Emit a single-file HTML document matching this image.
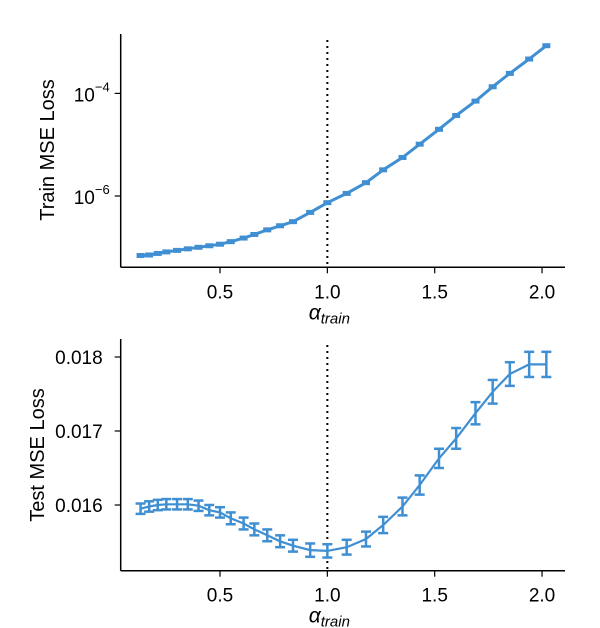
<!DOCTYPE html>
<html><head><meta charset="utf-8"><style>
body{margin:0;background:#fff;}
svg{display:block;font-family:"Liberation Sans",Arial,sans-serif;}
</style></head><body>
<svg id="chart" width="600" height="628" viewBox="0 0 600 628"></svg>
<script>
const alphas=[0.13,0.17,0.21,0.25,0.30,0.35,0.40,0.45,0.50,0.55,0.61,0.66,0.72,0.78,0.84,0.92,1.00,1.09,1.18,1.26,1.35,1.43,1.52,1.60,1.69,1.77,1.85,1.94,2.02];
const trainLog=[-7.16,-7.15,-7.12,-7.09,-7.06,-7.03,-7.0,-6.97,-6.94,-6.89,-6.82,-6.75,-6.66,-6.58,-6.5,-6.32,-6.13,-5.95,-5.74,-5.49,-5.25,-4.99,-4.70,-4.43,-4.15,-3.87,-3.61,-3.33,-3.07];
const testMean=[0.01595,0.01598,0.0160,0.01601,0.01601,0.01601,0.01599,0.01593,0.0159,0.01582,0.01575,0.01567,0.01559,0.01551,0.01545,0.01539,0.01538,0.01543,0.01554,0.01573,0.01598,0.01627,0.01663,0.0169,0.01724,0.01753,0.01777,0.0179,0.0179];
const testErr=[0.00007,0.00007,0.00007,0.00007,0.00007,0.00007,0.00007,0.00007,0.00007,0.00008,0.00008,0.00008,0.00008,0.00008,0.00008,0.00009,0.00009,0.0001,0.0001,0.00011,0.00012,0.00013,0.00013,0.00014,0.00015,0.00016,0.00016,0.00017,0.00017];
const xTicks=[0.5,1.0,1.5,2.0];
const xTickLabels=["0.5","1.0","1.5","2.0"];
const trainTicks=[-4,-6];
const testTicks=[0.016,0.017,0.018];
const testTickLabels=["0.016","0.017","0.018"];

const NS="http://www.w3.org/2000/svg";
const svg=document.getElementById('chart');
const C='#3f8fd2';
function mk(t,a,p){const e=document.createElementNS(NS,t);for(const k in a)e.setAttribute(k,a[k]);(p||svg).appendChild(e);return e;}
const L=120.7,R=565;
const sx=v=>220+(v-0.5)*214.7;
const syT=v=>196-(v+6)*51.3;
const syB=v=>505-(v-0.016)*74000;

function axes(top,bottom,name){
  const g=mk('g',{});
  
  
  mk('line',{x1:L,y1:top,x2:L,y2:bottom,stroke:'#000','stroke-width':1.5},g);
  mk('line',{x1:L,y1:bottom,x2:R,y2:bottom,stroke:'#000','stroke-width':1.5},g);
  xTicks.forEach((t,i)=>{
    mk('line',{x1:sx(t),y1:bottom,x2:sx(t),y2:bottom+6,stroke:'#000','stroke-width':1.2},g);
    const tx=mk('text',{x:sx(t),y:bottom+31,'text-anchor':'middle','font-size':19},g);
    tx.textContent=xTickLabels[i];
    
    
  });
  const xl=mk('text',{x:sx(1.0)+2,y:bottom+52,'text-anchor':'middle','font-size':21,'font-style':'italic'},g);
  
  
  xl.innerHTML='α<tspan font-size="15" dy="4">train</tspan>';
  const vl=mk('line',{x1:sx(1.0),y1:top+6,x2:sx(1.0),y2:bottom-1,stroke:'#000','stroke-width':2,'stroke-dasharray':'2,4'},g);
  
  
  return g;
}
// top
axes(34,267.3,'train');
trainTicks.forEach(t=>{
  mk('line',{x1:L-6,y1:syT(t),x2:L,y2:syT(t),stroke:'#000','stroke-width':1.2});
  const tx=mk('text',{x:L-11,y:syT(t)+8,'text-anchor':'end','font-size':19});
  tx.innerHTML='10<tspan font-size="13" dy="-10">'+'\u2212'+Math.abs(t)+'</tspan>';
  
  
});
const yt=mk('text',{x:0,y:0,'text-anchor':'middle','font-size':20,transform:'translate(54,150) rotate(-90)'});
yt.textContent='Train MSE Loss';


let d=alphas.map((a,i)=>(i?'L':'M')+sx(a).toFixed(1)+','+syT(trainLog[i]).toFixed(1)).join(' ');
const tl=mk('path',{d:d,fill:'none',stroke:C,'stroke-width':3,'stroke-linejoin':'round'});


alphas.forEach((a,i)=>{
  const m=mk('rect',{x:sx(a)-4,y:syT(trainLog[i])-2.5,width:8,height:5,fill:C});
  
  
});
// bottom
axes(339,570.7,'test');
testTicks.forEach((t,i)=>{
  mk('line',{x1:L-6,y1:syB(t),x2:L,y2:syB(t),stroke:'#000','stroke-width':1.2});
  const tx=mk('text',{x:L-18,y:syB(t)+7,'text-anchor':'end','font-size':19});
  tx.textContent=testTickLabels[i];
  
  
});
const yb=mk('text',{x:0,y:0,'text-anchor':'middle','font-size':20,transform:'translate(44,455) rotate(-90)'});
yb.textContent='Test MSE Loss';


d=alphas.map((a,i)=>(i?'L':'M')+sx(a).toFixed(1)+','+syB(testMean[i]).toFixed(1)).join(' ');
const bl=mk('path',{d:d,fill:'none',stroke:C,'stroke-width':2.2});


alphas.forEach((a,i)=>{
  const x=sx(a),y1=syB(testMean[i]+testErr[i]),y2=syB(testMean[i]-testErr[i]);
  const g=mk('g',{stroke:C,'stroke-width':2.5});
  
  
  mk('line',{x1:x,y1:y1,x2:x,y2:y2},g);
  mk('line',{x1:x-5,y1:y1,x2:x+5,y2:y1},g);
  mk('line',{x1:x-5,y1:y2,x2:x+5,y2:y2},g);
});
</script>
</body></html>
